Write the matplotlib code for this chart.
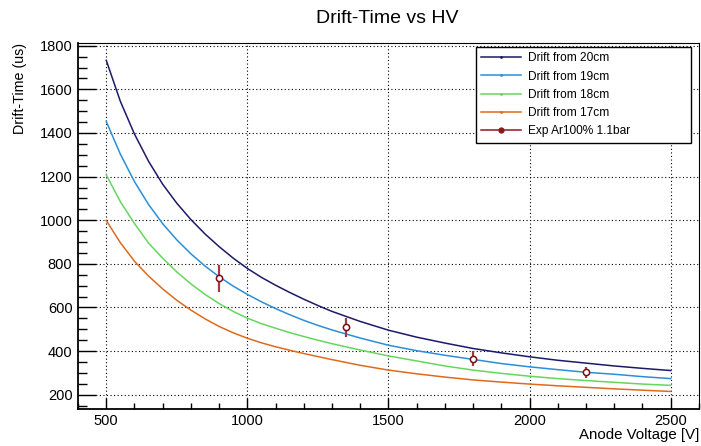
import matplotlib
matplotlib.use("Agg")
import matplotlib.pyplot as plt
from matplotlib.ticker import MultipleLocator
from matplotlib.lines import Line2D

plt.rcParams['font.family'] = ['Liberation Sans', 'DejaVu Sans']

# anode voltage samples for the drift curves [V]
voltage = [500, 550, 600, 650, 700, 750, 800, 850, 900, 950, 1000, 1050, 1100,
           1150, 1200, 1250, 1300, 1400, 1500, 1600, 1700, 1800, 1900, 2000,
           2100, 2200, 2300, 2400, 2500]

# drift time [us]
drift_20cm = [1733, 1545, 1395, 1270, 1165, 1078, 1003, 937, 879, 826, 779, 738, 702,
              669, 638, 609, 582, 536, 496, 464, 437, 412, 392, 374,
              358, 345, 332, 321, 311]
drift_19cm = [1453, 1303, 1177, 1072, 984, 910, 846, 790, 741, 698, 660, 626, 595,
              567, 541, 518, 497, 460, 427, 402, 381, 362, 343, 328,
              315, 303, 294, 283, 274]
drift_18cm = [1208, 1085, 985, 895, 826, 763, 708, 660, 618, 582, 551, 526, 505,
              485, 467, 450, 434, 405, 378, 355, 332, 313, 298, 285,
              274, 265, 257, 249, 243]
drift_17cm = [999, 897, 812, 744, 685, 633, 588, 548, 513, 484, 459, 438, 420,
              404, 389, 375, 361, 335, 313, 296, 281, 268, 258, 249,
              241, 234, 227, 221, 215]

# measured points, Ar 100% at 1.1 bar
exp_hv = [900, 1350, 1800, 2200]
exp_time = [733, 509, 366, 303]
exp_err = [64, 44, 35, 24]

curve_labels = ["Drift from 20cm", "Drift from 19cm", "Drift from 18cm", "Drift from 17cm"]
curve_colors = ["#1a1a6b", "#2b8fd8", "#66d65e", "#e06a1c"]

fig = plt.figure(figsize=(7.01, 4.46), dpi=100)
ax = fig.add_axes([0.1113, 0.0836, 0.8857, 0.8193])

for ys, col in zip([drift_20cm, drift_19cm, drift_18cm, drift_17cm], curve_colors):
    ax.plot(voltage, ys, color=col, lw=1.1, zorder=3)

ax.errorbar(exp_hv, exp_time, yerr=exp_err, fmt='none', ecolor='#a33a40',
            elinewidth=1.6, capsize=0, zorder=4)
ax.plot(exp_hv, exp_time, 'o', ms=4.5, mfc='white', mec='#7a0c14', mew=1.1, zorder=5)

ax.set_xlim(400, 2600)
ax.set_ylim(136, 1811)
ax.xaxis.set_major_locator(MultipleLocator(500))
ax.xaxis.set_minor_locator(MultipleLocator(100))
ax.yaxis.set_major_locator(MultipleLocator(200))
ax.yaxis.set_minor_locator(MultipleLocator(50))

ax.tick_params(axis='both', which='both', direction='in', labelsize=10.5, color='black')
ax.tick_params(axis='y', which='major', length=13, width=1.0, pad=4)
ax.tick_params(axis='y', which='minor', length=6.5, width=1.0)
ax.tick_params(axis='x', which='major', length=8, width=1.0, pad=4)
ax.tick_params(axis='x', which='minor', length=4, width=1.0)

ax.grid(True, which='major', color='black', linestyle=(0, (1, 2.2)), lw=0.8)
for side in ['left', 'bottom']:
    ax.spines[side].set_linewidth(1.3)
for side in ['top', 'right']:
    ax.spines[side].set_linewidth(0.8)

ax.set_xlabel("Anode Voltage [V]", fontsize=10.8, loc='right', labelpad=0)
ax.set_ylabel("Drift-Time (us)", fontsize=10.3, loc='top', labelpad=9)
fig.text(0.553, 0.958, "Drift-Time vs HV", ha='center', va='center', fontsize=14)

handles = []
for lab, col in zip(curve_labels, curve_colors):
    handles.append(Line2D([], [], color=col, lw=1.1, marker='.', ms=2, label=lab))
handles.append(Line2D([], [], color='#8b1a1a', lw=1.1, marker='o', ms=3.5,
                      mfc='#8b1a1a', mec='#8b1a1a', label="Exp Ar100% 1.1bar"))
leg = ax.legend(handles=handles, loc='upper left', bbox_to_anchor=(0.641, 0.99, 0.347, 0.0),
                mode='expand', fontsize=8.6, frameon=True, fancybox=False,
                edgecolor='black', framealpha=1, handlelength=3.3, handletextpad=0.6,
                labelspacing=0.52, borderpad=0.45, borderaxespad=0)
leg.get_frame().set_linewidth(1.0)
leg.set_zorder(10)

fig.savefig("out.png", dpi=100)
